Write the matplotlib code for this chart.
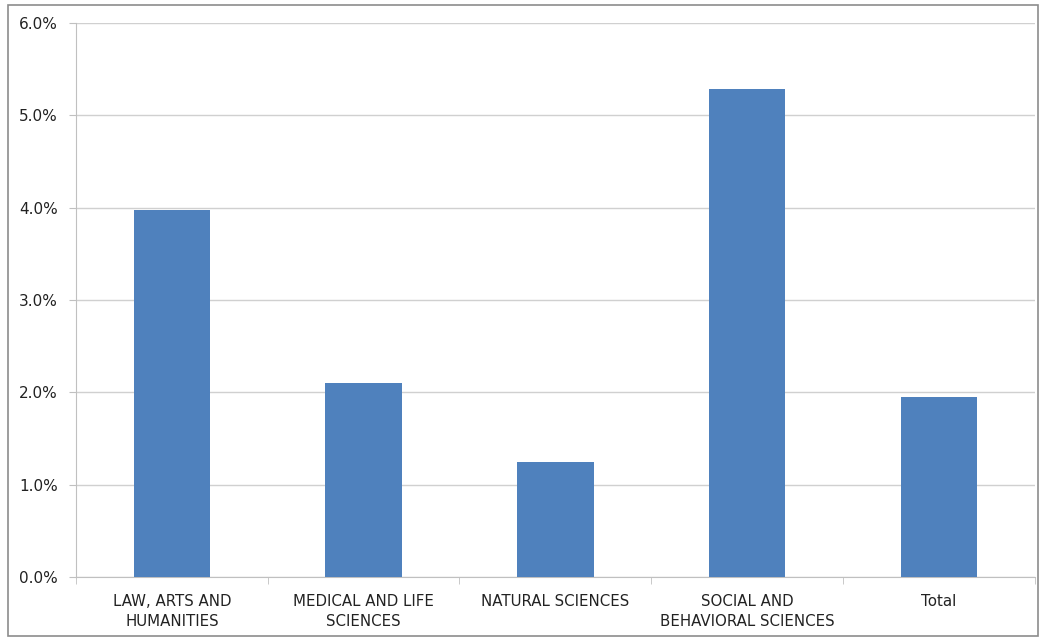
import matplotlib.pyplot as plt
import numpy as np
from matplotlib.patches import Rectangle
from matplotlib.ticker import FuncFormatter, FixedLocator

# Categories and values (percent)
categories = ['LAW, ARTS AND\nHUMANITIES', 'MEDICAL AND LIFE\nSCIENCES', 'NATURAL SCIENCES',
              'SOCIAL AND\nBEHAVIORAL SCIENCES', 'Total']
values = [3.98, 2.10, 1.25, 5.28, 1.95]

fig = plt.figure(figsize=(10.41, 6.39), dpi=100)
ax = fig.add_axes([0.073, 0.097, 0.921, 0.867])

# Outer chart border
fig.patches.append(Rectangle((0.008, 0.005), 0.989, 0.987, transform=fig.transFigure,
                             fill=False, edgecolor='#8c8c8c', linewidth=1.2))

x = np.arange(len(categories))
ax.bar(x, values, width=0.4, color='#4f81bd', zorder=3)

ax.set_xlim(-0.5, len(categories) - 0.5)
ax.set_ylim(0, 6)
ax.set_yticks(np.arange(0, 7, 1))
ax.yaxis.set_major_formatter(FuncFormatter(lambda v, p: f'{v:.1f}%'))
ax.grid(axis='y', color='#d0d0d0', linewidth=1, zorder=0)

ax.set_xticks(x)
ax.set_xticklabels(categories, fontsize=10.8, linespacing=1.45, color='#222222')
ax.xaxis.set_minor_locator(FixedLocator(np.arange(-0.5, len(categories), 1)))
ax.tick_params(axis='x', which='major', length=0, pad=12)
ax.tick_params(axis='x', which='minor', length=5, color='#c0c0c0')
ax.tick_params(axis='y', length=5, color='#c0c0c0', labelsize=11, labelcolor='#222222', pad=8)

for side in ['top', 'right']:
    ax.spines[side].set_visible(False)
for side in ['left', 'bottom']:
    ax.spines[side].set_color('#c0c0c0')

plt.savefig('out.png')
